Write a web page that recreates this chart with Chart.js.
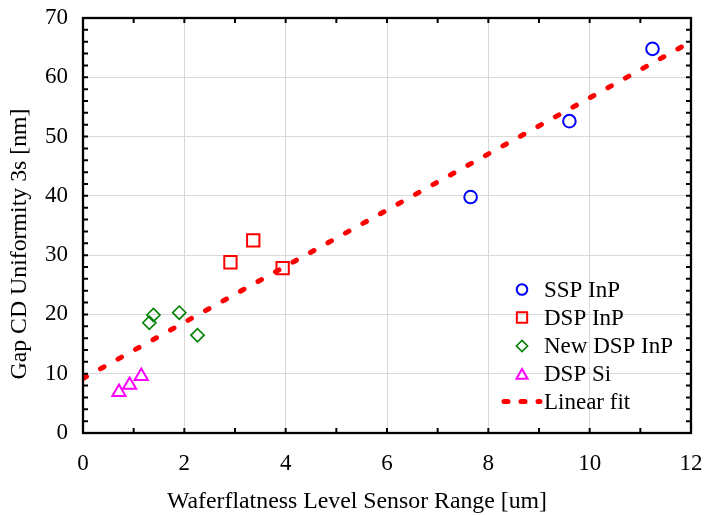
<!DOCTYPE html>
<html><head><meta charset="utf-8">
<script src="https://cdn.jsdelivr.net/npm/chart.js@4/dist/chart.umd.min.js"></script>
<style>html,body{margin:0;padding:0;background:#fff}#wrap{width:706px;height:515px}</style>
</head><body><div id="wrap"><canvas id="c" width="706" height="515"></canvas></div>
<script>
// ---- data ----
const seriesNames = ['SSP InP', 'DSP InP', 'New DSP InP', 'DSP Si', 'Linear fit'];
const sspX = [7.65, 9.6, 11.24];
const sspY = [39.8, 52.6, 64.8];
const dspX = [2.91, 3.36, 3.94];
const dspY = [28.8, 32.5, 27.8];
const newDspX = [1.31, 1.39, 1.90, 2.26];
const newDspY = [18.6, 19.9, 20.3, 16.5];
const siX = [0.71, 0.92, 1.15];
const siY = [6.9, 8.1, 9.6];
const fitX = [0, 12];
const fitY = [9.2, 66.0];
const xTickValues = [0, 2, 4, 6, 8, 10, 12];
const yTickValues = [0, 10, 20, 30, 40, 50, 60, 70];
const xTitle = 'Waferflatness Level Sensor Range [um]';
const yTitle = 'Gap CD Uniformity 3s [nm]';

const FONT = '"Liberation Serif", "Times New Roman", serif';
const pts = (xs, ys) => xs.map((x, i) => ({x: x, y: ys[i]}));

const styles = [
  {color: '#0000ff', shape: 'circle', r: 6.3, lr: 5.3, bw: 2},
  {color: '#ff0000', shape: 'rect', r: 8.7, lr: 7.3, bw: 2},
  {color: '#008000', shape: 'rectRot', r: 6.6, lr: 5.6, bw: 1.6},
  {color: '#ff00ff', shape: 'triangle', r: 7.6, lr: 6.4, bw: 2},
];

const series = [pts(sspX, sspY), pts(dspX, dspY), pts(newDspX, newDspY), pts(siX, siY)];
const datasets = series.map((d, i) => ({
  label: seriesNames[i], data: d, showLine: false,
  pointStyle: styles[i].shape, pointRadius: styles[i].r, pointHoverRadius: styles[i].r,
  borderColor: styles[i].color, backgroundColor: 'rgba(0,0,0,0)', pointBorderWidth: styles[i].bw,
  borderWidth: styles[i].bw, order: 1
}));
datasets.push({
  label: seriesNames[4], data: pts(fitX, fitY), showLine: true, pointRadius: 0,
  borderColor: '#ff0000', borderWidth: 5, borderDash: [4, 16], borderCapStyle: 'round',
  backgroundColor: 'rgba(0,0,0,0)', fill: false, order: 0
});

function shape(ctx, kind, x, y, r) {
  ctx.beginPath();
  if (kind === 'circle') { ctx.arc(x, y, r, 0, Math.PI * 2); }
  else if (kind === 'rect') { const s = r * Math.SQRT1_2; ctx.rect(x - s, y - s, 2 * s, 2 * s); }
  else if (kind === 'rectRot') { ctx.moveTo(x, y - r); ctx.lineTo(x + r, y); ctx.lineTo(x, y + r); ctx.lineTo(x - r, y); ctx.closePath(); }
  else if (kind === 'triangle') {
    for (let k = 0; k < 3; k++) { const a = k * 2 * Math.PI / 3; const px = x + Math.sin(a) * r, py = y - Math.cos(a) * r; k ? ctx.lineTo(px, py) : ctx.moveTo(px, py); }
    ctx.closePath();
  }
  ctx.stroke();
}

const framePlugin = {
  id: 'frame',
  afterDraw(chart) {
    const {ctx, chartArea: a, scales} = chart;
    const xs = scales.x, ys = scales.y;
    ctx.save();
    ctx.strokeStyle = '#000'; ctx.lineWidth = 2; ctx.lineCap = 'butt';
    ctx.beginPath();
    for (let v = xs.min; v <= xs.max + 1e-9; v += 1) {
      const p = xs.getPixelForValue(v);
      ctx.moveTo(p, a.bottom); ctx.lineTo(p, a.bottom - 5);
      ctx.moveTo(p, a.top); ctx.lineTo(p, a.top + 5);
    }
    for (let v = ys.min; v <= ys.max + 1e-9; v += 2) {
      const p = ys.getPixelForValue(v);
      ctx.moveTo(a.left, p); ctx.lineTo(a.left + 5, p);
      ctx.moveTo(a.right, p); ctx.lineTo(a.right - 5, p);
    }
    ctx.stroke();
    ctx.lineWidth = 2.3;
    ctx.strokeRect(a.left, a.top, a.right - a.left, a.bottom - a.top);

    ctx.fillStyle = '#000';
    ctx.font = '23.8px ' + FONT;
    ctx.textAlign = 'center'; ctx.textBaseline = 'middle';
    ctx.fillText(xTitle, 357, 502);
    ctx.save();
    ctx.translate(20, 244); ctx.rotate(-Math.PI / 2);
    ctx.fillText(yTitle, 0, 0);
    ctx.restore();

    ctx.font = '23px ' + FONT;
    const lx = 522, tx = 544, rows = [289.5, 317.5, 346, 374, 401.5];
    ctx.textAlign = 'left';
    for (let i = 0; i < 4; i++) {
      ctx.strokeStyle = styles[i].color; ctx.lineWidth = styles[i].bw;
      const yy = styles[i].shape === 'triangle' ? rows[i] + 1.5 : rows[i];
      shape(ctx, styles[i].shape, lx, yy, styles[i].lr);
      ctx.fillStyle = '#000';
      ctx.fillText(chart.data.datasets[i].label, tx, rows[i] + 1);
    }
    ctx.strokeStyle = '#ff0000'; ctx.lineWidth = 5; ctx.lineCap = 'round'; ctx.setLineDash([4, 13]);
    ctx.beginPath(); ctx.moveTo(504, rows[4]); ctx.lineTo(540, rows[4]); ctx.stroke();
    ctx.setLineDash([]);
    ctx.fillText(chart.data.datasets[4].label, tx, rows[4] + 1);
    ctx.restore();
  }
};

const gridColor = (c, lo, hi) => (c.tick && (c.tick.value === lo || c.tick.value === hi)) ? 'rgba(0,0,0,0)' : '#d9d9d9';

new Chart(document.getElementById('c'), {
  type: 'scatter',
  data: {datasets: datasets},
  options: {
    responsive: false, animation: false, devicePixelRatio: 1,
    layout: {padding: {top: 18, right: 15, left: 0, bottom: 0}},
    plugins: {legend: {display: false}, tooltip: {enabled: false}},
    scales: {
      x: {
        type: 'linear', min: xTickValues[0], max: xTickValues[xTickValues.length - 1],
        afterBuildTicks: s => { s.ticks = xTickValues.map(v => ({value: v})); },
        afterFit: s => { s.height = 82; s.paddingLeft = 0; s.paddingRight = 0; },
        border: {display: false},
        grid: {drawTicks: false, lineWidth: 1, color: c => gridColor(c, 0, 12)},
        ticks: {color: '#000', font: {family: FONT, size: 23}, padding: 17, maxRotation: 0}
      },
      y: {
        type: 'linear', min: yTickValues[0], max: yTickValues[yTickValues.length - 1],
        afterBuildTicks: s => { s.ticks = yTickValues.map(v => ({value: v})); },
        afterFit: s => { s.width = 83; s.paddingTop = 0; s.paddingBottom = 0; },
        border: {display: false},
        grid: {drawTicks: false, lineWidth: 1, color: c => gridColor(c, 0, 70)},
        ticks: {color: '#000', font: {family: FONT, size: 23}, padding: 15}
      }
    }
  },
  plugins: [framePlugin]
});
</script></body></html>
